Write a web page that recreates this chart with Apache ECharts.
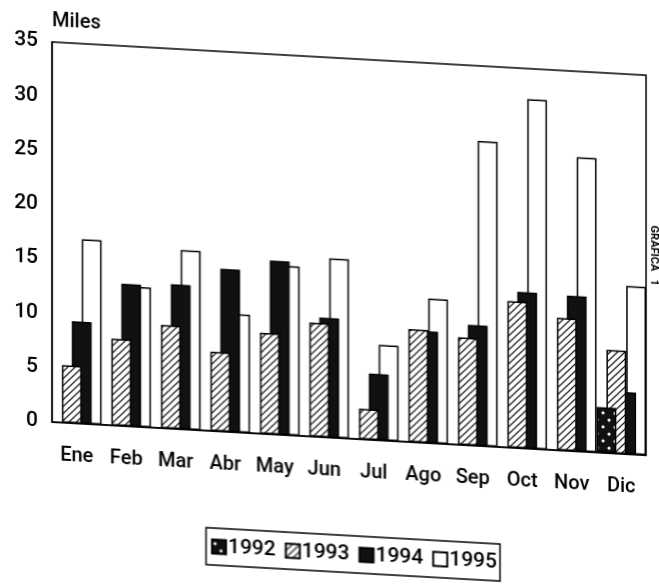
<!DOCTYPE html>
<html>
<head>
<meta charset="utf-8">
<script src="https://cdn.jsdelivr.net/npm/echarts@6/dist/echarts.min.js"></script>
<style>
  body { margin: 0; background: #fff; }
  /* the scan is slightly sheared, so the whole chart is skewed a little */
  #chart { width: 659px; height: 587px; transform: skewY(3.2deg); transform-origin: 52px 0; }
</style>
</head>
<body>
<div id="chart"></div>
<script>
var months = ["Ene", "Feb", "Mar", "Abr", "May", "Jun", "Jul", "Ago", "Sep", "Oct", "Nov", "Dic"];
var years = ["1992", "1993", "1994", "1995"];
var yTicks = [0, 5, 10, 15, 20, 25, 30, 35];

var data1992 = [null, null, null, null, null, null, null, null, null, null, null, 4.2];
var data1993 = [5.3, 8.0, 9.5, 7.3, 9.3, 10.5, 2.8, 10.4, 9.9, 13.5, 12.2, 9.5];
var data1994 = [9.4, 13.1, 13.3, 15.0, 16.0, 11.0, 6.1, 10.3, 11.1, 14.4, 14.3, 5.7];
var data1995 = [17.0, 12.9, 16.5, 10.9, 15.6, 16.5, 8.8, 13.3, 28.1, 32.2, 27.1, 15.5];

var font = "Roboto, 'Liberation Sans', sans-serif";

// hatch "/" pattern for 1993
function hatchPattern() {
  var c = document.createElement("canvas");
  c.width = 7; c.height = 7;
  var ctx = c.getContext("2d");
  ctx.fillStyle = "#fff";
  ctx.fillRect(0, 0, 7, 7);
  ctx.strokeStyle = "#000";
  ctx.lineWidth = 1.2;
  ctx.beginPath();
  ctx.moveTo(-1, 8); ctx.lineTo(8, -1);
  ctx.moveTo(-2, 2); ctx.lineTo(2, -2);
  ctx.moveTo(5, 9); ctx.lineTo(9, 5);
  ctx.stroke();
  return c;
}

// black with a few white specks for 1992
function dotPattern() {
  var c = document.createElement("canvas");
  c.width = 12; c.height = 14;
  var ctx = c.getContext("2d");
  ctx.fillStyle = "#111";
  ctx.fillRect(0, 0, 12, 14);
  ctx.fillStyle = "#fff";
  ctx.beginPath();
  ctx.arc(3, 4, 1.6, 0, Math.PI * 2);
  ctx.arc(9, 11, 1.6, 0, Math.PI * 2);
  ctx.fill();
  return c;
}

var fills = [
  { image: dotPattern(), repeat: "repeat" },
  { image: hatchPattern(), repeat: "repeat" },
  "#111",
  "#fff"
];
var values = [data1992, data1993, data1994, data1995];

var series = [];
for (var i = 0; i < years.length; i++) {
  series.push({
    name: years[i],
    type: "bar",
    data: values[i],
    z: 10 - i, // earlier years are drawn in front
    barGap: "-50%",
    barCategoryGap: "0%",
    itemStyle: {
      color: fills[i],
      borderColor: "#000",
      borderWidth: 1.5
    }
  });
}

var chart = echarts.init(document.getElementById("chart"));
chart.setOption({
  animation: false,
  grid: {
    left: 52,
    right: 13,
    top: 42,
    bottom: 165,
    show: true,
    borderColor: "#000",
    borderWidth: 1.5,
    backgroundColor: "transparent"
  },
  legend: {
    data: years,
    left: 206,
    top: 519,
    icon: "rect",
    itemWidth: 14,
    itemHeight: 14,
    itemGap: 9,
    padding: [8, 3, 8, 5],
    borderColor: "#000",
    borderWidth: 1.5,
    textStyle: {
      fontFamily: font,
      fontSize: 21,
      fontWeight: 500,
      color: "#000",
      padding: [0, 0, 0, -3]
    }
  },
  xAxis: {
    type: "category",
    data: months,
    axisLine: { show: true, lineStyle: { color: "#000", width: 1.5 } },
    axisTick: { show: false },
    axisLabel: {
      interval: 0,
      margin: 23,
      fontFamily: font,
      fontSize: 20,
      fontWeight: 500,
      color: "#000"
    }
  },
  yAxis: {
    type: "value",
    min: yTicks[0],
    max: yTicks[yTicks.length - 1],
    interval: 5,
    name: "Miles",
    nameGap: 11,
    nameTextStyle: {
      align: "left",
      fontFamily: font,
      fontSize: 20,
      fontWeight: 500,
      color: "#000"
    },
    axisLine: { show: true, lineStyle: { color: "#000", width: 1.5 } },
    axisTick: { show: false },
    splitLine: { show: false },
    axisLabel: {
      margin: 14,
      fontFamily: font,
      fontSize: 21,
      fontWeight: 500,
      color: "#000"
    }
  },
  graphic: [
    {
      type: "text",
      x: 654,
      y: 222,
      rotation: -Math.PI / 2,
      style: {
        text: "GRAFICA   1",
        fontFamily: font,
        fontSize: 11,
        fontWeight: "bold",
        fill: "#000",
        align: "center",
        verticalAlign: "middle"
      }
    }
  ],
  series: series
});
</script>
</body>
</html>
